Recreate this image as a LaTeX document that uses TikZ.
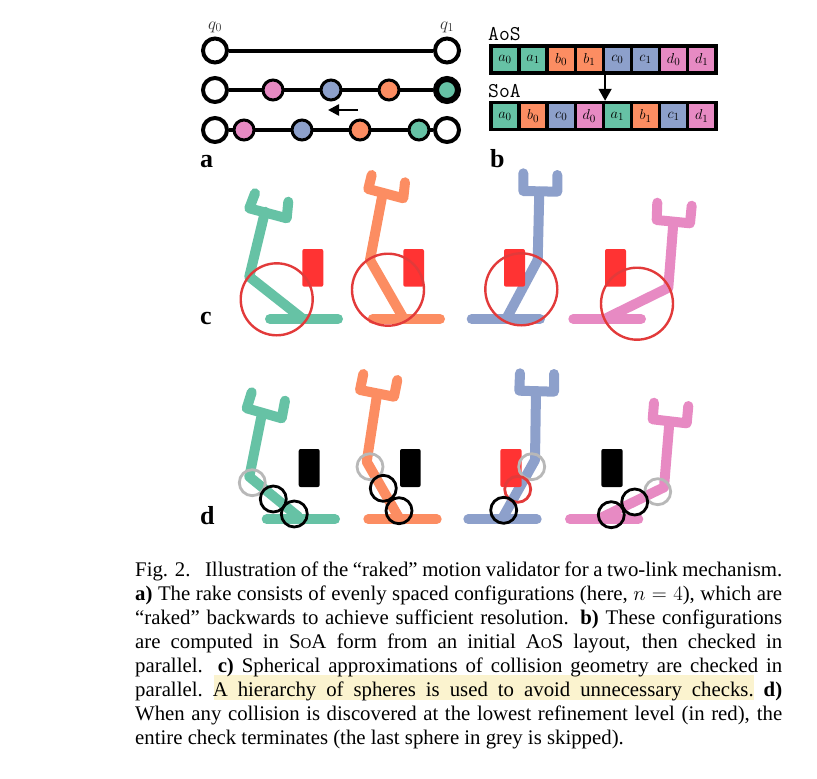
\documentclass[tikz,border=0pt]{standalone}
\usepackage{fontspec}
\usetikzlibrary{arrows.meta, backgrounds}
\newfontfamily\capfont[Ligatures=TeX]{Liberation Serif}
\definecolor{green}{HTML}{66C2A5}
\definecolor{orange}{HTML}{FC8D62}
\definecolor{blue}{HTML}{8DA0CB}
\definecolor{pink}{HTML}{E78AC3}
\definecolor{obstacle}{HTML}{FF3333}
\definecolor{sphere}{HTML}{E23A3A}
\definecolor{skipped}{HTML}{B8B8B8}
\definecolor{highlight}{HTML}{FBF3CF}
\newcommand*{\acro}[3]{#1{\fontsize{15}{15}\selectfont\MakeUppercase{#2}}#3}
\tikzset{
  config/.style={circle, draw=black, line width=3pt, minimum size=20pt, inner sep=0pt},
  endpoint/.style={circle, draw=black, fill=white, line width=4pt, minimum size=24pt, inner sep=0pt},
  rake/.style={line width=4pt},
  cell/.style={draw=black, line width=3.5pt, minimum width=28.1pt, minimum height=27pt,
    inner sep=0pt, font=\fontsize{15}{15}\selectfont},
  panel/.style={anchor=base west, inner sep=0pt, font=\capfont\bfseries\fontsize{26}{26}\selectfont},
  link/.style={line width=10pt, line cap=round, line join=round},
  block/.style={rounded corners=2pt},
  ball/.style={line width=2.4pt},
  smallball/.style={line width=2.8pt}
}

\begin{document}
\begin{tikzpicture}[x=1pt, y=-1pt]
  \useasboundingbox (0, 0) rectangle (817, 779);

  % a
  \node[endpoint] (q0top) at (215, 50.5) {};
  \node[endpoint] (q1top) at (447, 50.5) {};
  \node[anchor=base, inner sep=0pt, font=\fontsize{18}{18}\selectfont, text=black!80] (q0label) at (215, 29) {$q_{0}$};
  \node[anchor=base, inner sep=0pt, font=\fontsize{18}{18}\selectfont, text=black!80] (q1label) at (447, 29) {$q_{1}$};

  \node[endpoint] (q0mid) at (215, 90) {};
  \node[config, fill=pink] (pinkmid) at (273, 90) {};
  \node[config, fill=blue] (bluemid) at (331, 90) {};
  \node[config, fill=orange] (orangemid) at (389, 90) {};
  \node[endpoint, fill=green, line width=6pt, minimum size=22pt] (q1mid) at (447, 90) {};

  \node[endpoint] (q0low) at (215, 130) {};
  \node[config, fill=pink] (pinklow) at (244, 130) {};
  \node[config, fill=blue] (bluelow) at (302, 130) {};
  \node[config, fill=orange] (orangelow) at (360, 130) {};
  \node[config, fill=green] (greenlow) at (419, 130) {};
  \node[endpoint] (q1low) at (447, 130) {};

  \begin{scope}[on background layer]
    \draw[rake] (q0top) -- (q1top);
    \draw[rake] (q0mid) -- (q1mid);
    \draw[rake] (q0low) -- (q1low);
  \end{scope}

  \coordinate (rakefrom) at (358, 110);
  \coordinate (raketo) at (328, 110);
  \draw[line width=2.5pt, -{Stealth[length=11pt, width=11pt, inset=0pt]}] (rakefrom) -- (raketo);

  \node[panel] (panela) at (200, 167) {a};

  % b
  \node[anchor=base west, inner sep=0pt, font=\ttfamily\fontsize{21}{21}\selectfont] (aoslabel) at (488, 40) {AoS};
  \node[cell, fill=green] (aos0) at (505, 59.5) {$a_{0}$};
  \node[cell, fill=green] (aos1) at (533.1, 59.5) {$a_{1}$};
  \node[cell, fill=orange] (aos2) at (561.2, 59.5) {$b_{0}$};
  \node[cell, fill=orange] (aos3) at (589.3, 59.5) {$b_{1}$};
  \node[cell, fill=blue] (aos4) at (617.4, 59.5) {$c_{0}$};
  \node[cell, fill=blue] (aos5) at (645.5, 59.5) {$c_{1}$};
  \node[cell, fill=pink] (aos6) at (673.6, 59.5) {$d_{0}$};
  \node[cell, fill=pink] (aos7) at (701.7, 59.5) {$d_{1}$};

  \node[anchor=base west, inner sep=0pt, font=\ttfamily\fontsize{21}{21}\selectfont] (soalabel) at (488, 97) {SoA};
  \node[cell, fill=green] (soa0) at (505, 116) {$a_{0}$};
  \node[cell, fill=orange] (soa1) at (533.1, 116) {$b_{0}$};
  \node[cell, fill=blue] (soa2) at (561.2, 116) {$c_{0}$};
  \node[cell, fill=pink] (soa3) at (589.3, 116) {$d_{0}$};
  \node[cell, fill=green] (soa4) at (617.4, 116) {$a_{1}$};
  \node[cell, fill=orange] (soa5) at (645.5, 116) {$b_{1}$};
  \node[cell, fill=blue] (soa6) at (673.6, 116) {$c_{1}$};
  \node[cell, fill=pink] (soa7) at (701.7, 116) {$d_{1}$};

  \draw[line width=1.6pt, -{Triangle[length=12pt, width=13pt]}] (aos3.south east) -- (soa3.north east);

  \node[panel] (panelb) at (490, 167) {b};

  % c
  \draw[link, green] (270, 319) -- (338, 319);
  \draw[link, green] (301.7, 318) -- (249.3, 276.7) -- (265, 211.7);
  \draw[link, green] (255, 193.3) -- (249.3, 208.3) -- (286.7, 218.3) -- (288.3, 201.7);
  \fill[block, obstacle] (302.3, 249) rectangle (323.3, 286.7);
  \draw[ball, sphere] (276.7, 299.3) circle (36);

  \draw[link, orange] (372.7, 319) -- (440, 319);
  \draw[link, orange] (403.3, 318) -- (370, 260) -- (382.7, 193.3);
  \draw[link, orange] (371.7, 175) -- (368.3, 189) -- (403.3, 198.3) -- (405, 182.3);
  \fill[block, obstacle] (403.3, 249) rectangle (424, 286.7);
  \draw[ball, sphere] (388, 289.7) circle (36);

  \draw[link, blue] (471.7, 319) -- (540, 319);
  \draw[link, blue] (506.7, 318) -- (537.7, 260) -- (539.3, 191.7);
  \draw[link, blue] (523.3, 173.3) -- (523.3, 191) -- (557.3, 191.7) -- (557.3, 175);
  \fill[block, obstacle] (504, 249) rectangle (525, 286.7);
  \draw[ball, sphere] (521.3, 289.3) circle (36);

  \draw[link, pink] (573.3, 319) -- (641, 319);
  \draw[link, pink] (606.7, 318) -- (668.3, 287.7) -- (673.3, 223.3);
  \draw[link, pink] (657.3, 202.7) -- (656.7, 220) -- (690, 223.3) -- (691.7, 205.7);
  \fill[block, obstacle] (605, 249) rectangle (626, 286.7);
  \draw[ball, sphere] (637, 303.7) circle (36);

  \node[panel] (panelc) at (200, 324) {c};

  % d
  \draw[link, green] (266.7, 519.3) -- (335, 519.3);
  \draw[link, green] (298.3, 516.7) -- (249.3, 476.7) -- (261.7, 415);
  \draw[link, green] (251.7, 392.3) -- (246.7, 408.3) -- (281.7, 418.3) -- (285, 400.7);
  \fill[block, black] (298.7, 449) rectangle (319.7, 487);
  \draw[smallball, skipped] (252.3, 482.7) circle (13);
  \draw[smallball, black] (273.3, 499) circle (13);
  \draw[smallball, black] (294.3, 514) circle (13);

  \draw[link, orange] (368.3, 519.3) -- (436.7, 519.3);
  \draw[link, orange] (398.3, 516.7) -- (366.7, 461.7) -- (376.7, 396.7);
  \draw[link, orange] (363.3, 374) -- (360, 390) -- (394, 396.7) -- (397.3, 380);
  \fill[block, black] (400, 449) rectangle (420.7, 487);
  \draw[smallball, skipped] (370, 466.7) circle (13);
  \draw[smallball, black] (383.3, 488.3) circle (13);
  \draw[smallball, black] (399, 510.7) circle (13);

  \draw[link, blue] (468.3, 519.3) -- (536.7, 519.3);
  \draw[link, blue] (503.3, 516.7) -- (535, 460) -- (536, 391.7);
  \draw[link, blue] (520, 373.3) -- (519.3, 390.7) -- (554, 391.7) -- (554, 374);
  \fill[block, obstacle] (500.3, 449) rectangle (521.7, 487);
  \draw[smallball, skipped] (531.7, 466.7) circle (13);
  \draw[smallball, sphere] (517.7, 489.3) circle (13);
  \draw[smallball, black] (503.7, 510.3) circle (13);

  \draw[link, pink] (570, 519.3) -- (638.3, 519.3);
  \draw[link, pink] (603.3, 516.7) -- (664, 487.3) -- (669.3, 423.3);
  \draw[link, pink] (654, 402.7) -- (652.7, 419.3) -- (686.7, 423.3) -- (688.3, 406);
  \fill[block, black] (601.3, 449) rectangle (622.7, 487);
  \draw[smallball, skipped] (657.7, 491.7) circle (13);
  \draw[smallball, black] (634.7, 502) circle (13);
  \draw[smallball, black] (611.3, 514.7) circle (13);

  \node[panel] (paneld) at (200, 524) {d};

  % caption
  \fill[highlight] (214, 674.5) rectangle (754, 699.5);
  \node[anchor=north west, inner sep=0pt, text width=647pt, align=justify,
    font=\capfont\fontsize{20.8}{24}\selectfont] (caption) at (135, 561.5) {%
    Fig. 2.\hspace{0.7em}Illustration of the ``raked'' motion validator for a two-link mechanism.\linebreak
    \textbf{a)} The rake consists of evenly spaced configurations (here, $n=4$), which are\linebreak
    ``raked'' backwards to achieve sufficient resolution. \textbf{b)} These configurations\linebreak
    are computed in \acro{S}{o}{A} form from an initial \acro{A}{o}{S} layout, then checked in\linebreak
    parallel. \textbf{c)} Spherical approximations of collision geometry are checked in\linebreak
    parallel.\ A hierarchy of spheres is used to avoid unnecessary checks.\ \textbf{d)}\linebreak
    When any collision is discovered at the lowest refinement level (in red), the\linebreak
    entire check terminates (the last sphere in grey is skipped).};
\end{tikzpicture}
\end{document}
